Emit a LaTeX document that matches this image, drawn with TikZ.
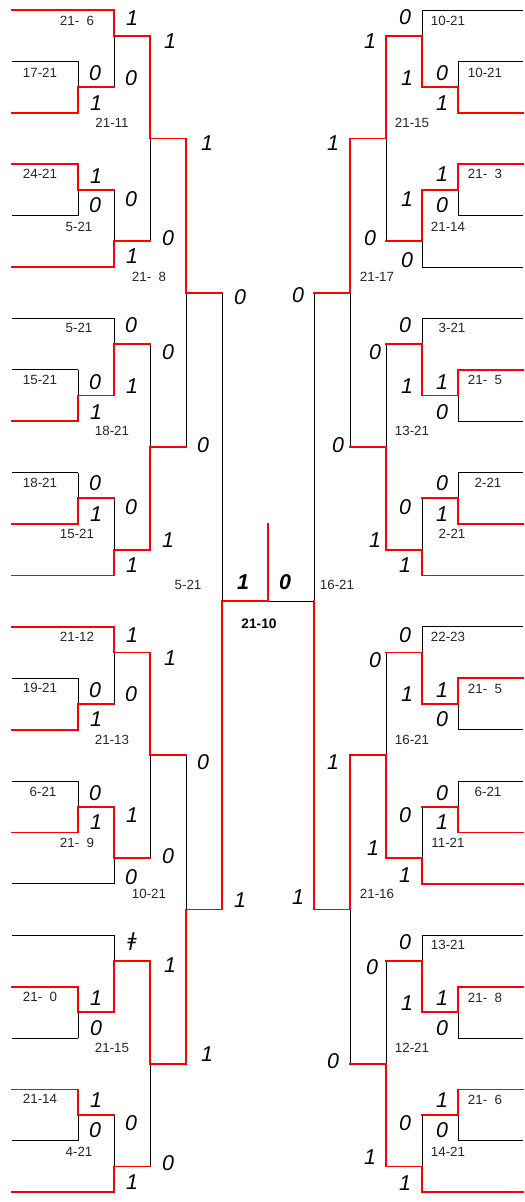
\documentclass[tikz,border=0pt]{standalone}
\usepackage{fontspec}
\setmainfont{Liberation Sans}
\newfontfamily\djv{DejaVu Sans}
\begin{document}
\begin{tikzpicture}[x=1bp,y=-1bp,
  blk/.style={black,line width=0.9bp},
  rd/.style={red,line width=1.8bp,line cap=rect},
  sc/.style={font=\fontsize{13.4}{13.4}\selectfont,text=black!85,inner sep=0pt},
  wl/.style={font=\fontsize{21.5}{21.5}\selectfont\itshape,inner sep=0pt},
  fin/.style={font=\fontsize{21.5}{21.5}\selectfont\bfseries\itshape,inner sep=0pt},
  finsc/.style={font=\fontsize{13.8}{13.8}\selectfont\bfseries,inner sep=0pt}]
\useasboundingbox (0,0) rectangle (525,1202);
\def\F{\hphantom{0}}
% ---------- black verticals of all matches ----------
\foreach \x/\a/\b in {78/2/4,78/6/8,78/14/16,78/18/20,78/26/28,78/30/32,78/38/40,78/42/44,
  114/0/3,114/7/10,114/12/15,114/19/22,114/24/27,114/31/34,114/36/39,114/43/46,
  150/1/9,150/13/21,150/25/33,150/37/45,186/5/17,186/29/41,222/11/35,
  458/2/4,458/6/8,458/14/16,458/18/20,458/26/28,458/30/32,458/38/40,458/42/44,
  422/0/3,422/7/10,422/12/15,422/19/22,422/24/27,422/31/34,422/36/39,422/43/46,
  386/1/9,386/13/21,386/25/33,386/37/45,350/5/17,350/29/41,314/11/35}
  \draw[blk] (\x,{10+25.7*\a}) -- (\x,{10+25.7*\b});
% ---------- black leaves ----------
\foreach \r/\e in {2/78,8/78,12/114,14/78,18/78,26/78,30/78,34/114,36/114,40/78,44/78}
  \draw[blk] (12,{10+25.7*\r}) -- (\e,{10+25.7*\r});
\foreach \r/\e in {0/422,2/458,8/458,10/422,12/422,16/458,18/458,24/422,28/458,30/458,36/422,40/458,44/458}
  \draw[blk] (\e,{10+25.7*\r}) -- (523,{10+25.7*\r});
\draw[blk] (314,{10+25.7*23}) -- (268,{10+25.7*23});
% ---------- red leaves ----------
\foreach \r/\e in {0/114,4/78,6/78,10/114,16/78,20/78,22/114,24/114,28/78,32/78,38/78,42/78,46/114}
  \draw[rd] (12,{10+25.7*\r}) -- (\e,{10+25.7*\r});
\foreach \r/\e in {4/458,6/458,14/458,20/458,22/422,26/458,32/458,34/422,38/458,42/458,46/422}
  \draw[rd] (\e,{10+25.7*\r}) -- (523,{10+25.7*\r});
% ---------- red winner paths ----------
\foreach \x/\w/\o/\n in {78/4/3/114,78/6/7/114,78/16/15/114,78/20/19/114,78/28/27/114,78/32/31/114,78/38/39/114,78/42/43/114,
  114/0/1/150,114/10/9/150,114/15/13/150,114/22/21/150,114/24/25/150,114/31/33/150,114/39/37/150,114/46/45/150,
  150/1/5/186,150/21/17/186,150/25/29/186,150/37/41/186,186/5/11/222,186/41/35/222,222/35/23/268,
  458/4/3/422,458/6/7/422,458/14/15/422,458/20/19/422,458/26/27/422,458/32/31/422,458/38/39/422,458/42/43/422,
  422/3/1/386,422/7/9/386,422/15/13/386,422/22/21/386,422/27/25/386,422/34/33/386,422/39/37/386,422/46/45/386,
  386/1/5/350,386/21/17/350,386/33/29/350,386/45/41/350,350/5/11/314,350/29/35/314}
  \draw[rd] (\x,{10+25.7*\w}) -- (\x,{10+25.7*\o}) -- (\n,{10+25.7*\o});
\draw[rd] (314,{10+25.7*35}) -- (314,{10+25.7*23});
\draw[rd] (268,{10+25.7*23}) -- (268,{10+25.7*20});
% ---------- win / loss digits ----------
\foreach \x/\y/\t [count=\i] in {132/18/1,170/41/1,95/73/0,131/78/0,96/103/1,207/143/1,96/176/1,95/205/0,131/199/0,168/238/0,132/256/1,240/297/0,
  131/325/0,168/352/0,95/382/0,132/386/1,96/412/1,203/445/0,95/483/0,131/507/0,96/514/1,168/540/1,132/565/1,
  132/635/1,170/658/1,95/690/0,131/694/0,96/719/1,203/762/0,95/793/0,132/815/1,96/822/1,168/856/0,131/877/0,240/900/1,
  170/965/1,96/998/1,96/1028/0,207/1054/1,96/1100/1,131/1123/0,95/1130/0,168/1163/0,132/1182/1,
  405/17/0,370/41/1,442/73/0,407/78/1,442/103/1,333/143/1,442/174/1,407/199/1,442/205/0,370/238/0,407/260/0,298/295/0,
  405/325/0,375/352/0,442/382/1,407/386/1,442/412/0,338/445/0,442/483/0,405/507/0,442/514/1,375/540/1,405/565/1,
  405/635/0,375/660/0,442/690/1,407/694/1,442/719/0,333/762/1,442/793/0,405/815/0,442/822/1,373/848/1,405/875/1,298/897/1,
  405/942/0,372/967/0,442/998/1,407/1003/1,442/1028/0,333/1061/0,442/1100/1,405/1123/0,442/1130/0,370/1157/1,405/1183/1}
  \node[wl] (d\i) at (\x,\y) {\t};
\node[wl,font=\fontsize{19}{19}\selectfont\djv\itshape] (dx) at (132,942) {ǂ};
% ---------- scores ----------
\foreach \x/\y/\t [count=\i] in {77/21/21-\F6,40/73/17-21,112/123/21-11,40/174/24-21,79/227/5-21,149/277/21-\F8,
  79/328/5-21,40/380/15-21,112/431/18-21,40/483/18-21,77/534/15-21,188/585/5-21,
  77/637/21-12,40/688/19-21,112/740/21-13,43/792/6-21,77/843/21-\F9,149/894/10-21,
  40/997/21-\F0,112/1048/21-15,40/1099/21-14,79/1152/4-21,
  448/21/10-21,485/73/10-21,412/123/21-15,485/174/21-\F3,448/227/21-14,377/277/21-17,
  452/328/3-21,485/380/21-\F5,412/431/13-21,488/483/2-21,452/534/2-21,337/585/16-21,
  448/637/22-23,485/689/21-\F5,412/740/16-21,488/792/6-21,448/843/11-21,377/894/21-16,
  448/945/13-21,485/998/21-\F8,412/1048/12-21,485/1100/21-\F6,448/1152/14-21}
  \node[sc] (s\i) at (\x,\y) {\t};
% ---------- final ----------
\node[fin] (f1) at (243,582) {1};
\node[fin] (f0) at (285,582) {0};
\node[finsc] (fs) at (259,624) {21-10};
\end{tikzpicture}
\end{document}
